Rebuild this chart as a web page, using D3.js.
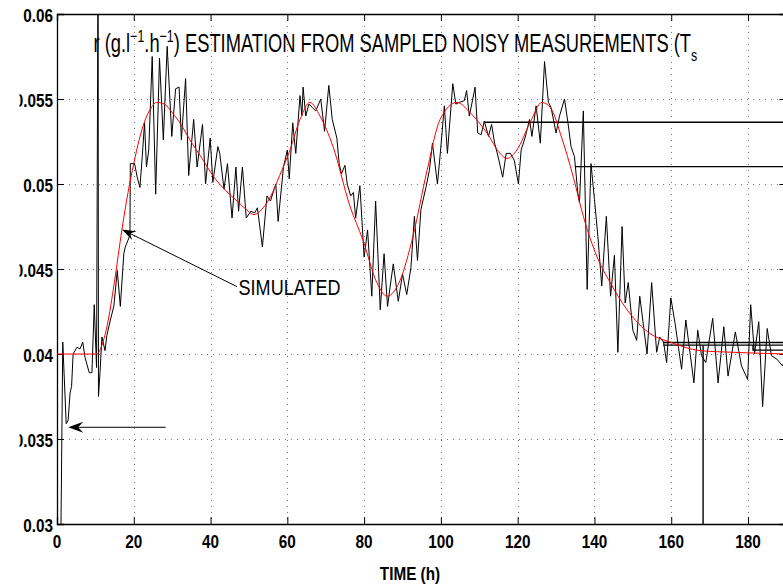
<!DOCTYPE html>
<html><head><meta charset="utf-8">
<script src="https://cdn.jsdelivr.net/npm/d3@7"></script>
<style>body{margin:0;background:#fff} svg{display:block}</style>
</head><body>
<svg id="c" width="783" height="585"></svg>
<script>
// ---------------- DATA ----------------
const xTicks = [0,20,40,60,80,100,120,140,160,180];
const yTicks = [0.03,0.035,0.04,0.045,0.05,0.055,0.06];
const yTickLabels = ["0.03","0.035","0.04","0.045","0.05","0.055","0.06"];
const xTitle = "TIME (h)";
const simLabel = "SIMULATED";

// simulated r (red)
const simT = [0,10.4,11.5,13,15,16.9,18.5,20,21.4,22.7,24.3,26,28,30,32.3,34.6,37.8,40.9,44,46.9,49.3,51.3,53.3,55.5,58,60.7,63.3,65.9,68.5,71.9,76.3,79.7,83.3,86,89.3,92.7,96.4,99.8,104.2,107.6,112,115.4,117.2,119.8,123.2,126.3,128.5,131.5,134.5,137.1,140.7,144.1,148.5,154.5,159.7,167.5,176.1,190];
const simR = [0.0400,0.0400,0.0404,0.0416,0.0443,0.0473,0.0495,0.0512,0.0526,0.0536,0.0544,0.0548,0.0547,0.0542,0.0535,0.0526,0.0515,0.0504,0.0496,0.0490,0.0485,0.0482,0.0485,0.0492,0.0505,0.0520,0.0538,0.0548,0.0540,0.0522,0.0487,0.0467,0.0442,0.0434,0.0443,0.0469,0.0508,0.0538,0.0548,0.0542,0.0530,0.0518,0.0515,0.0520,0.0536,0.0548,0.0545,0.0527,0.0504,0.0481,0.0457,0.0442,0.0426,0.0412,0.0407,0.0402,0.0401,0.0400];

// estimation from sampled noisy measurements (black)
const measT = [1.0,1.5,2.4,2.9,3.4,3.8,4.2,5.2,6.0,6.7,7.3,8.4,9.1,9.7,10.3,10.7,10.8,11.2,11.7,12.5,13.0,13.9,14.8,15.7,16.5,17.4,17.8,18.5,19.0,19.1,20.2,20.9,21.6,22.2,22.8,23.3,23.9,24.8,25.7,26.7,27.7,28.7,29.9,30.9,31.8,32.4,33.5,34.3,35.6,36.5,37.9,38.7,39.9,40.6,41.9,42.4,43.5,44.4,45.6,46.6,47.3,48.3,49.3,50.5,51.5,52.2,53.5,54.7,55.6,57.0,57.6,59.0,60.0,60.5,61.4,62.2,63.3,63.8,64.1,64.8,65.6,66.5,67.4,68.7,69.7,70.8,71.7,72.9,73.5,74.1,75.0,75.6,76.5,77.2,77.8,78.9,80.0,80.9,82.0,83.0,84.2,85.2,86.1,86.8,87.6,88.9,90.0,91.1,92.2,93.1,93.9,94.8,96.1,97.0,97.8,99.1,99.8,100.9,101.7,103.1,103.9,104.8,106.1,106.7,107.4,108.3,108.9,109.6,110.5,111.3,112.4,113.2,114.0,114.8,116.1,117.0,118.1,119.1,120.2,120.9,121.9,123.1,123.7,124.8,125.9,127.0,128.0,128.7,130.0,130.9,132.2,133.1,133.9,134.8,135.7,136.1,137.1,138.1,139.1,140.0,140.9,141.9,143.1,144.2,145.2,146.1,147.2,148.0,148.8,150.0,151.0,151.8,153.7,154.9,156.2,157.0,158.0,158.8,159.9,161.0,162.7,163.8,165.9,166.9,167.9,169.0,170.8,172.2,173.7,174.8,176.7,178.3,179.9,180.7,181.7,182.8,183.8,185.0,186.1,187.5,189.0,190.0];
const measR = [0.0290,0.0407,0.0359,0.0361,0.0377,0.0381,0.0400,0.0404,0.0403,0.0407,0.0398,0.0389,0.0389,0.0429,0.0392,0.0640,0.0375,0.0389,0.0410,0.0402,0.0411,0.0420,0.0428,0.0449,0.0428,0.0459,0.0463,0.0467,0.0470,0.0512,0.0512,0.0504,0.0498,0.0516,0.0536,0.0510,0.0520,0.0575,0.0494,0.0574,0.0526,0.0581,0.0528,0.0556,0.0557,0.0526,0.0562,0.0505,0.0538,0.0510,0.0535,0.0500,0.0527,0.0501,0.0522,0.0518,0.0497,0.0512,0.0480,0.0510,0.0484,0.0510,0.0480,0.0484,0.0483,0.0486,0.0463,0.0493,0.0490,0.0500,0.0478,0.0510,0.0520,0.0503,0.0536,0.0518,0.0552,0.0540,0.0557,0.0540,0.0547,0.0545,0.0543,0.0550,0.0531,0.0558,0.0538,0.0527,0.0512,0.0506,0.0511,0.0500,0.0493,0.0495,0.0480,0.0499,0.0457,0.0473,0.0434,0.0490,0.0426,0.0459,0.0428,0.0440,0.0453,0.0431,0.0447,0.0435,0.0451,0.0481,0.0455,0.0485,0.0498,0.0508,0.0524,0.0500,0.0517,0.0546,0.0518,0.0559,0.0547,0.0548,0.0549,0.0555,0.0540,0.0550,0.0557,0.0530,0.0529,0.0537,0.0528,0.0535,0.0524,0.0517,0.0504,0.0518,0.0518,0.0514,0.0500,0.0520,0.0527,0.0538,0.0528,0.0546,0.0524,0.0572,0.0548,0.0545,0.0530,0.0540,0.0550,0.0536,0.0522,0.0516,0.0494,0.0489,0.0543,0.0438,0.0512,0.0491,0.0469,0.0440,0.0481,0.0434,0.0458,0.0401,0.0475,0.0430,0.0442,0.0414,0.0408,0.0434,0.0400,0.0442,0.0401,0.0410,0.0407,0.0395,0.0433,0.0418,0.0391,0.0420,0.0383,0.0414,0.0399,0.0395,0.0421,0.0383,0.0416,0.0387,0.0413,0.0393,0.0385,0.0429,0.0400,0.0419,0.0369,0.0415,0.0399,0.0397,0.0393,0.0399];

// extra step/estimate lines visible in the figure
const stepLines = [
  [[111.5,0.05363],[190,0.05363]],
  [[134.9,0.05102],[190,0.05102]],
  [[157.9,0.04068],[190,0.04068]],
  [[157.9,0.04052],[190,0.04052]],
  [[168.3,0.0300],[168.3,0.04052]],
  [[181.3,0.04052],[181.3,0.04023],[190,0.04023]]
];

// annotation arrows [tailT, tailR, tipT, tipR]
const arrowSim = [46.9, 0.04396, 16.9, 0.04733];
const arrowMeas = [28.3, 0.03569, 2.94, 0.03569];
const simLabelPos = [47.3, 0.04347];

// ---------------- CHART ----------------
const svg = d3.select("#c");
const L = 57, R = 786.4, T = 14, B = 524;
const x = d3.scaleLinear().domain([0,190]).range([L,R]);
const y = d3.scaleLinear().domain([0.03,0.06]).range([B,T]);
const FONT = "'Liberation Sans', Arial, Helvetica, sans-serif";

svg.append("defs").append("clipPath").attr("id","plot")
  .append("rect").attr("x",L).attr("y",T).attr("width",R-L).attr("height",B-T);
svg.select("defs").append("clipPath").attr("id","lab")
  .append("rect").attr("x",19.5).attr("y",0).attr("width",783).attr("height",585);

// grid
const grid = svg.append("g").attr("stroke","#777").attr("stroke-width",1).attr("stroke-dasharray","1,5");
grid.selectAll(".gx").data(xTicks.filter(d=>d>0)).join("line")
  .attr("x1",d=>Math.round(x(d))+0.5).attr("x2",d=>Math.round(x(d))+0.5).attr("y1",T).attr("y2",B);
grid.selectAll(".gy").data(yTicks.filter(d=>d>0.03 && d<0.06)).join("line")
  .attr("y1",d=>Math.round(y(d))+0.5).attr("y2",d=>Math.round(y(d))+0.5).attr("x1",L).attr("x2",R);

// axes using d3 axis generators (ticks inward, labels drawn separately)
const axB = d3.axisBottom(x).tickValues(xTicks).tickSize(-7).tickFormat("");
const axT = d3.axisTop(x).tickValues(xTicks).tickSize(-7).tickFormat("");
const axL = d3.axisLeft(y).tickValues(yTicks).tickSize(-7).tickFormat("");
const axR = d3.axisRight(y).tickValues(yTicks).tickSize(-7).tickFormat("");
function styleAx(g){ g.select(".domain").attr("stroke","#000").attr("stroke-width",1.3); g.selectAll(".tick line").attr("stroke","#000").attr("stroke-width",1); }
svg.append("g").attr("transform",`translate(0,${B})`).call(axB).call(styleAx);
svg.append("g").attr("transform",`translate(0,${T})`).call(axT).call(styleAx);
svg.append("g").attr("transform",`translate(${L},0)`).call(axL).call(styleAx);
svg.append("g").attr("transform",`translate(${R},0)`).call(axR).call(styleAx);

// scaled text helper
function stxt(parent, px, py, str, size, weight, anchor, sx){
  const g = parent.append("g").attr("transform",`translate(${px},${py}) scale(${sx},1)`);
  return g.append("text").attr("x",0).attr("y",0).attr("font-family",FONT).attr("font-size",size)
    .attr("font-weight",weight).attr("text-anchor",anchor).attr("fill","#000").text(str);
}
// tick labels
const xl = svg.append("g");
xTicks.forEach(d=> stxt(xl, x(d), 548, String(d), 18, "bold", "middle", 0.85));
const yl = svg.append("g").attr("clip-path","url(#lab)");
yTicks.forEach((d,i)=> stxt(yl, 53, y(d)+7.8, yTickLabels[i], 18, "bold", "end", 0.85));
stxt(svg, 410, 580, xTitle, 18, "bold", "middle", 0.85);

// data lines
const plot = svg.append("g").attr("clip-path","url(#plot)");
const lineGen = d3.line().x(d=>x(d[0])).y(d=>y(d[1]));
const simData = simT.map((t,i)=>[t,simR[i]]);
const measData = measT.map((t,i)=>[t,measR[i]]);
plot.append("path").datum(measData).attr("d",lineGen).attr("fill","none").attr("stroke","#000").attr("stroke-width",1);
stepLines.forEach(s=> plot.append("path").datum(s).attr("d",lineGen).attr("fill","none").attr("stroke","#000").attr("stroke-width",1.4));
plot.append("path").datum(simData).attr("d",d3.line().x(d=>x(d[0])).y(d=>y(d[1])).curve(d3.curveMonotoneX))
  .attr("fill","none").attr("stroke","#ff0000").attr("stroke-width",1);

// arrows
function arrow(a, len, hw){
  const x0=x(a[0]), y0=y(a[1]), x1=x(a[2]), y1=y(a[3]);
  const dx=x1-x0, dy=y1-y0, n=Math.hypot(dx,dy), ux=dx/n, uy=dy/n, px=-uy, py=ux;
  const bx=x1-ux*len, by=y1-uy*len;
  svg.append("line").attr("x1",x0).attr("y1",y0).attr("x2",x1-ux*len*0.6).attr("y2",y1-uy*len*0.6)
    .attr("stroke","#000").attr("stroke-width",1);
  const nx=x1-ux*len*0.65, ny=y1-uy*len*0.65;
  svg.append("path").attr("d",`M${x1},${y1}L${bx+px*hw},${by+py*hw}L${nx},${ny}L${bx-px*hw},${by-py*hw}Z`).attr("fill","#000");
}
arrow(arrowSim, 14, 5);
arrow(arrowMeas, 15, 5.5);
stxt(svg, x(simLabelPos[0]), y(simLabelPos[1]), simLabel, 22, "normal", "start", 0.82);

// title
const tg = svg.append("g").attr("transform","translate(93.5,52)");
const tt = tg.append("text").attr("font-family",FONT).attr("font-size",25).attr("fill","#000");
tt.append("tspan").text("r (g.l");
tt.append("tspan").attr("dy",-10).attr("font-size",17).text("\u22121");
tt.append("tspan").attr("dy",10).text(".h");
tt.append("tspan").attr("dy",-10).attr("font-size",17).text("\u22121");
tt.append("tspan").attr("dy",10).text(") ESTIMATION FROM SAMPLED NOISY MEASUREMENTS (T");
tt.append("tspan").attr("dy",9).attr("font-size",17).text("s");
const w = tt.node().getComputedTextLength();
tg.attr("transform",`translate(93.5,52) scale(${604/w},1)`);
</script>
</body></html>
